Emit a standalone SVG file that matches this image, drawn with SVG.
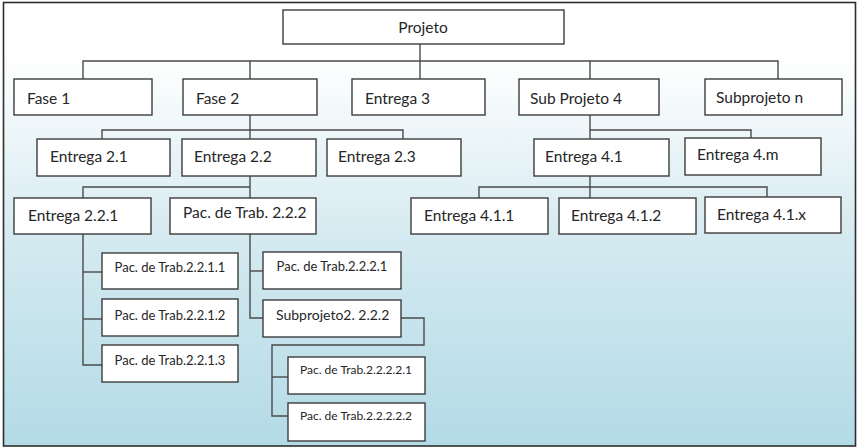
<svg xmlns="http://www.w3.org/2000/svg" width="858" height="447" viewBox="0 0 858 447">
<defs>
<linearGradient id="bg" x1="0" y1="0" x2="0" y2="1">
<stop offset="0" stop-color="#ffffff"/>
<stop offset="0.12" stop-color="#ffffff"/>
<stop offset="0.55" stop-color="#d3e9f0"/>
<stop offset="1" stop-color="#b3dbe6"/>
</linearGradient>
<style>
.box{fill:#ffffff;stroke:#3c3c3c;stroke-width:1.4}
.t{font-family:Lato,"Liberation Sans",sans-serif;font-size:15.5px;fill:#262626}
.c{text-anchor:middle}
.s{font-size:13px}
.xs{font-size:12px}
.m{font-size:14px}
#connectors path{fill:none;stroke:#4a4a4a;stroke-width:1.4}
</style>
</defs>
<rect x="3.5" y="2.5" width="852" height="443.5" fill="url(#bg)" stroke="#2e2e2e" stroke-width="1.6"/>
<g id="connectors">
<path d="M420 44V79"/>
<path d="M83 79V61H778V79"/>
<path d="M250 61V79"/>
<path d="M590 61V79"/>
<path d="M250 115V139"/>
<path d="M102 139V130H403V139"/>
<path d="M590 115V139"/>
<path d="M590 130H751V139"/>
<path d="M250 176V198"/>
<path d="M83 198V187H250"/>
<path d="M590 176V198"/>
<path d="M479 198V187H767V198"/>
<path d="M83 234V365H102"/>
<path d="M83 272H102"/>
<path d="M83 319H102"/>
<path d="M250 234V318H263"/>
<path d="M250 271H263"/>
<path d="M401 318H424V345H272V416H288"/>
<path d="M272 377H288"/>
</g>
<g id="n-projeto"><rect class="box" x="283" y="10" width="281" height="34"/><text class="t c" x="423" y="33">Projeto</text></g>
<g id="n-fase1"><rect class="box" x="14" y="79" width="138" height="36"/><text class="t" x="27" y="104">Fase 1</text></g>
<g id="n-fase2"><rect class="box" x="183" y="79" width="134" height="36"/><text class="t" x="196" y="104">Fase 2</text></g>
<g id="n-entrega3"><rect class="box" x="352" y="79" width="133" height="36"/><text class="t" x="365" y="104">Entrega 3</text></g>
<g id="n-subprojeto4"><rect class="box" x="519" y="79" width="140" height="36"/><text class="t" x="530" y="104">Sub Projeto 4</text></g>
<g id="n-subprojeton"><rect class="box" x="705" y="79" width="137" height="36"/><text class="t" x="716" y="103">Subprojeto n</text></g>
<g id="n-entrega21"><rect class="box" x="37" y="139" width="133" height="37"/><text class="t" x="50" y="162">Entrega 2.1</text></g>
<g id="n-entrega22"><rect class="box" x="182" y="139" width="134" height="37"/><text class="t" x="194" y="162">Entrega 2.2</text></g>
<g id="n-entrega23"><rect class="box" x="327" y="139" width="134" height="37"/><text class="t" x="338" y="162">Entrega 2.3</text></g>
<g id="n-entrega41"><rect class="box" x="534" y="139" width="135" height="37"/><text class="t" x="545" y="162">Entrega 4.1</text></g>
<g id="n-entrega4m"><rect class="box" x="685" y="138" width="136" height="37"/><text class="t" x="697" y="160">Entrega 4.m</text></g>
<g id="n-entrega221"><rect class="box" x="14" y="198" width="137" height="36"/><text class="t" x="28" y="221">Entrega 2.2.1</text></g>
<g id="n-pac222"><rect class="box" x="170" y="198" width="146" height="36"/><text class="t" x="183" y="218">Pac. de Trab. 2.2.2</text></g>
<g id="n-entrega411"><rect class="box" x="411" y="198" width="137" height="36"/><text class="t" x="424" y="221">Entrega 4.1.1</text></g>
<g id="n-entrega412"><rect class="box" x="559" y="198" width="137" height="36"/><text class="t" x="571" y="221">Entrega 4.1.2</text></g>
<g id="n-entrega41x"><rect class="box" x="705" y="197" width="136" height="36"/><text class="t" x="717" y="220">Entrega 4.1.x</text></g>
<g id="n-pac2211"><rect class="box" x="102" y="253" width="136" height="36"/><text class="t s c" x="170" y="272">Pac. de Trab.2.2.1.1</text></g>
<g id="n-pac2212"><rect class="box" x="102" y="299" width="136" height="37"/><text class="t s c" x="170" y="320">Pac. de Trab.2.2.1.2</text></g>
<g id="n-pac2213"><rect class="box" x="102" y="345" width="136" height="37"/><text class="t s c" x="170" y="365">Pac. de Trab.2.2.1.3</text></g>
<g id="n-pac2221"><rect class="box" x="263" y="252" width="138" height="37"/><text class="t s c" x="332" y="271">Pac. de Trab.2.2.2.1</text></g>
<g id="n-subprojeto2222"><rect class="box" x="263" y="300" width="138" height="37"/><text class="t m" x="276" y="320">Subprojeto2. 2.2.2</text></g>
<g id="n-pac22221"><rect class="box" x="288" y="357" width="137" height="37"/><text class="t xs" x="300" y="374">Pac. de Trab.2.2.2.2.1</text></g>
<g id="n-pac22222"><rect class="box" x="288" y="403" width="137" height="38"/><text class="t xs" x="300" y="420">Pac. de Trab.2.2.2.2.2</text></g>
</svg>
